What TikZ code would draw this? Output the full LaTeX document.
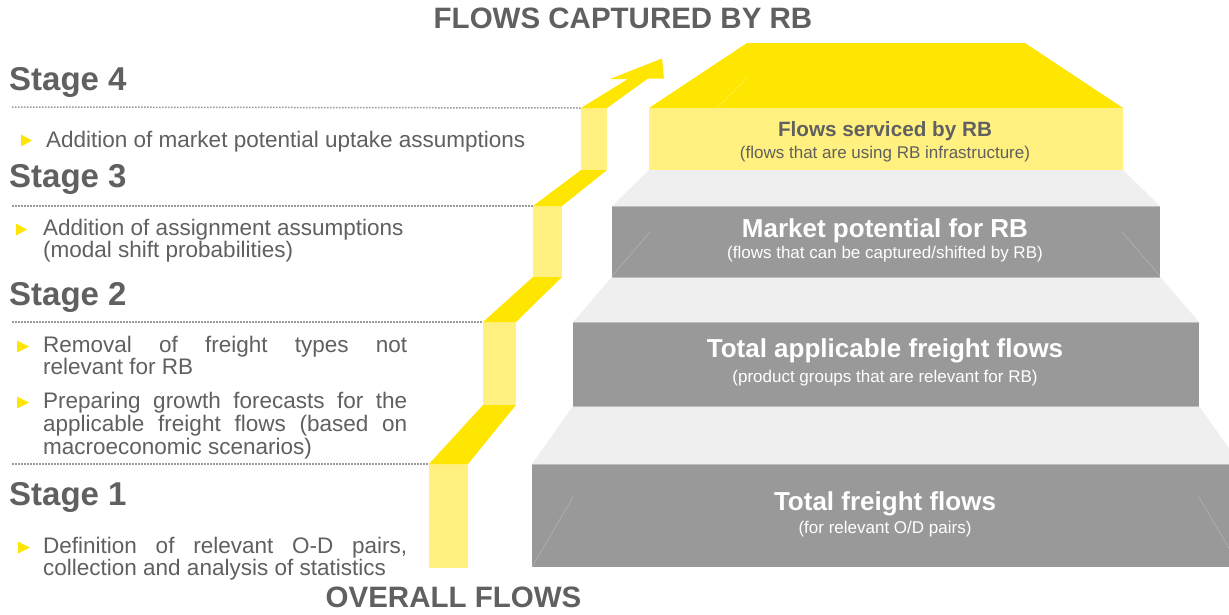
\documentclass[tikz,border=0pt]{standalone}
\usepackage{fontspec}
\setmainfont{Liberation Sans}
\definecolor{ydark}{HTML}{FFE600}
\definecolor{ylight}{HTML}{FFF07F}
\definecolor{gbox}{HTML}{999999}
\definecolor{glight}{HTML}{EFEFEF}
\definecolor{txt}{HTML}{606060}
\definecolor{dotc}{HTML}{9A9A9A}
\definecolor{gedge}{HTML}{BEBEBE}
\definecolor{gfaint}{HTML}{B2B2B2}
\definecolor{yfaint}{HTML}{FFEF5A}
\tikzset{
  stagehead/.style={anchor=base west, inner sep=0pt, font=\fontsize{33}{40}\selectfont\bfseries, text=txt},
  bul/.style={anchor=base west, inner sep=0pt, font=\fontsize{22.5}{27}\selectfont, text=txt},
  boxtitle/.style={anchor=base, inner sep=0pt, font=\fontsize{26}{31}\selectfont\bfseries, text=white},
  boxsub/.style={anchor=base, inner sep=0pt, font=\fontsize{17}{20}\selectfont, text=white},
  maintitle/.style={anchor=base, inner sep=0pt, font=\fontsize{29.5}{35}\selectfont\bfseries, text=txt},
  dotline/.style={draw=dotc, line width=1.5pt, dash pattern=on 1.5pt off 1.5pt},
  tri/.style={fill=ydark},
  riser/.style={fill=ylight},
  tread/.style={fill=ydark},
  graybox/.style={fill=gbox},
  grayedge/.style={draw=gedge, line width=0.9pt},
  faint/.style={draw=gfaint, line width=0.6pt},
}
\newcommand{\bultri}[3]{\fill[tri] (#1,#3-6) -- (#2,#3) -- (#1,#3+6) -- cycle;}
\newcommand{\jline}[1]{\makebox[364pt][s]{#1}}
\begin{document}
\begin{tikzpicture}[x=1pt,y=-1pt]
\useasboundingbox (0,0) rectangle (1229,614);
\fill[white] (0,0) rectangle (1229,614);
\clip (0,0) rectangle (1229,614);

% ---------------- pyramid ----------------
\fill[ydark] (649,108) -- (747,43) -- (1025,43) -- (1123,108) -- cycle;
\draw[draw=yfaint, line width=0.6pt] (717,108) -- (747,78);
\fill[ylight] (649,108) rectangle (1123,170);
\fill[glight] (649,170) -- (1123,170) -- (1160,206) -- (612,206) -- cycle;
\fill[graybox] (612,206) rectangle (1160,277);
\fill[glight] (612,277) -- (1160,277) -- (1199,322) -- (573,322) -- cycle;
\fill[graybox] (573,322) rectangle (1199,406);
\fill[glight] (573,406) -- (1199,406) -- (1240,464) -- (532,464) -- cycle;
\fill[graybox] (532,464) rectangle (1240,567);
\draw[grayedge] (612,206) -- (1160,206);
\draw[grayedge] (612,277) -- (1160,277);
\draw[grayedge] (573,322) -- (1199,322);
\draw[grayedge] (573,406) -- (1199,406);
\draw[grayedge] (532,464) -- (1240,464);
\draw[faint] (612,276) -- (650,232);
\draw[faint] (1160,276) -- (1122,232);
\draw[faint] (532,567) -- (573,497);
\draw[faint] (1240,567) -- (1199,497);

\node[boxtitle, text=txt, font=\fontsize{20.7}{25}\selectfont\bfseries] (t4) at (885,136) {Flows serviced by RB};
\node[boxsub, text=txt] (s4) at (885,158) {(flows that are using RB infrastructure)};
\node[boxtitle] (t3) at (885,237) {Market potential for RB};
\node[boxsub] (s3) at (885,258) {(flows that can be captured/shifted by RB)};
\node[boxtitle] (t2) at (885,357) {Total applicable freight flows};
\node[boxsub] (s2) at (885,382) {(product groups that are relevant for RB)};
\node[boxtitle] (t1) at (885,510) {Total freight flows};
\node[boxsub] (s1) at (885,533) {(for relevant O/D pairs)};

% ---------------- staircase arrow ----------------
\coordinate (c1) at (429,464);
\coordinate (c2) at (483,322);
\coordinate (c3) at (533,206);
\coordinate (c4) at (581,108);
\fill[riser] (429,464) rectangle (468,568);
\fill[riser] (483,322) rectangle (516,405);
\fill[riser] (533,206) rectangle (562,277);
\fill[riser] (581,108) rectangle (607,170);
\fill[tread] (429,464) -- (483,405) -- (516,405) -- (468,464) -- cycle;
\fill[tread] (483,322) -- (533,277) -- (562,277) -- (516,322) -- cycle;
\fill[tread] (533,206) -- (581,170) -- (607,170) -- (562,206) -- cycle;
\fill[tread] (581,108) -- (628,79) -- (610,79) -- (662,58.5) -- (664,78.5) -- (648,78.5) -- (607,108) -- cycle;

% ---------------- dotted stage lines ----------------
\draw[dotline] (12,107) -- (c4);
\draw[dotline] (12,206) -- (c3);
\draw[dotline] (12,322) -- (c2);
\draw[dotline] (12,464) -- (c1);

% ---------------- titles ----------------
\node[maintitle] (top) at (623,28) {FLOWS CAPTURED BY RB};
\node[maintitle] (bottom) at (453.5,607) {OVERALL FLOWS};

% ---------------- stages ----------------
\node[stagehead] (st4) at (9,90) {Stage 4};
\bultri{21}{32}{140.5}
\node[bul] (b4) at (46,147) {Addition of market potential uptake assumptions};

\node[stagehead] (st3) at (9,187) {Stage 3};
\bultri{16}{27}{229.5}
\node[bul] (b3a) at (43,235) {Addition of assignment assumptions};
\node[bul] (b3b) at (43,257) {(modal shift probabilities)};

\node[stagehead] (st2) at (9,305) {Stage 2};
\bultri{17}{29}{346.5}
\node[bul] (b2a) at (43,352) {\jline{Removal of freight types not}};
\node[bul] (b2b) at (43,374) {relevant for RB};
\bultri{17}{29}{402.5}
\node[bul] (b2c) at (43,408) {\jline{Preparing growth forecasts for the}};
\node[bul] (b2d) at (43,431) {\jline{applicable freight flows (based on}};
\node[bul] (b2e) at (43,454) {macroeconomic scenarios)};

\node[stagehead] (st1) at (9,505) {Stage 1};
\bultri{18}{30}{547.5}
\node[bul] (b1a) at (43,553) {\jline{Definition of relevant O-D pairs,}};
\node[bul] (b1b) at (43,575) {collection and analysis of statistics};
\end{tikzpicture}
\end{document}
